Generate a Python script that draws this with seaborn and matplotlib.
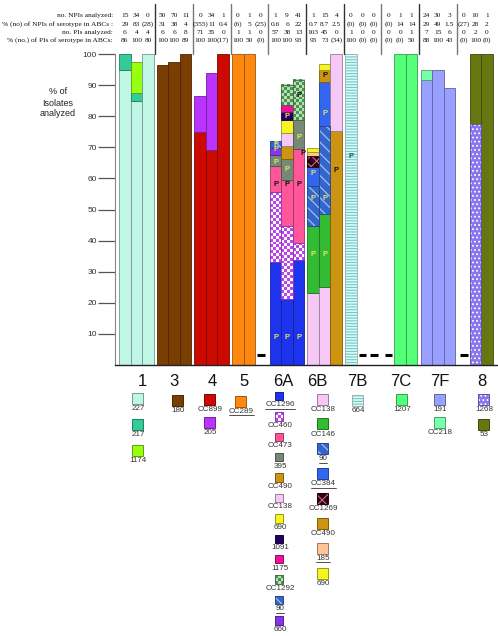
import numpy as np
import matplotlib
matplotlib.use("Agg")
import matplotlib.pyplot as plt
import seaborn as sns
from matplotlib.patches import Rectangle
from matplotlib.colors import to_rgb

sns.set_theme(style="white")
plt.rcParams['font.family'] = ['Liberation Sans', 'DejaVu Sans']
plt.rcParams['hatch.linewidth'] = 0.8

# ---------------- data ----------------
groups = ["1", "3", "4", "5", "6A", "6B", "7B", "7C", "7F", "8"]

row_labels = ["no. NPIs analyzed:",
              "% (no) of NPIs of serotype in ABCs :",
              "no. PIs analyzed:",
              "% (no.) of PIs of serotype in ABCs:"]

npi_n = [["15", "34", "0"], ["50", "70", "11"], ["0", "34", "1"], ["0", "1", "0"],
         ["1", "9", "41"], ["1", "15", "4"], ["0", "0", "0"], ["0", "1", "1"],
         ["24", "30", "3"], ["0", "10", "1"]]
npi_pct = [["29", "83", "(28)"], ["31", "38", "4"], ["(355)", "11", "0.4"], ["(6)", "5", "(25)"],
           ["0.6", "6", "22"], ["0.7", "8.7", "2.5"], ["(0)", "(0)", "(0)"], ["(0)", "14", "14"],
           ["29", "49", "1.5"], ["(27)", "28", "2"]]
pi_n = [["6", "4", "4"], ["6", "6", "8"], ["71", "35", "0"], ["1", "1", "0"],
        ["57", "38", "13"], ["103", "45", "0"], ["1", "0", "0"], ["0", "0", "1"],
        ["7", "15", "6"], ["0", "2", "0"]]
pi_pct = [["86", "100", "80"], ["100", "100", "89"], ["100", "100", "(17)"], ["100", "50", "(0)"],
          ["100", "100", "93"], ["95", "73", "(34)"], ["100", "(0)", "(0)"], ["(0)", "(0)", "50"],
          ["88", "100", "43"], ["(0)", "100", "(0)"]]

# stacked segments (type, % of isolates) for each of the 3 bars of a serotype
seg_1 = [[("227", 95), ("217", 5)], [("227", 85), ("217", 2.5), ("1174", 10)], [("227", 100)]]
seg_3 = [[("180", 96.5)], [("180", 97.5)], [("180", 100)]]
seg_4 = [[("CC899", 75), ("205", 11.5)], [("CC899", 69), ("205", 25)], [("CC899", 100)]]
seg_5 = [[("CC289", 100)], [("CC289", 100)], []]
seg_6A = [[("CC1296", 33), ("CC460", 22.5), ("CC473", 8.5), ("395", 3.6), ("660", 2.1), ("90", 2.3)],
          [("CC1296", 21.2), ("CC460", 23.5), ("CC473", 14.8), ("395", 6.7), ("CC490", 4.1),
           ("CC138", 4.3), ("690", 4.2), ("1091", 2.4), ("1175", 2.3), ("CC1292", 6.5)],
          [("CC1296", 33.7), ("CC460", 5.6), ("CC473", 30.1), ("395", 9.3), ("CC1292", 12.9)]]
seg_6B = [[("CC138", 23.3), ("CC146", 21.4), ("90", 13), ("CC384", 5.9), ("CC1269", 3.7),
           ("185", 1.1), ("690", 1.3)],
          [("CC138", 25.1), ("CC146", 23.3), ("90", 28.5), ("CC384", 14.2), ("CC490", 3.8), ("690", 1.8)],
          [("CC490", 75.3), ("CC138", 24.7)]]
seg_7B = [[("664", 100)], [], []]
seg_7C = [[], [("1207", 100)], [("1207", 100)]]
seg_7F = [[("191", 91.6), ("CC218", 3.2)], [("191", 94.8)], [("191", 89)]]
seg_8 = [[], [("1268", 77.5), ("53", 22.5)], [("53", 100)]]
segments = [seg_1, seg_3, seg_4, seg_5, seg_6A, seg_6B, seg_7B, seg_7C, seg_7F, seg_8]

# "P" marks: (group, bar, value, colour key, x shift)
p_marks = [("6A", 0, 9, "y", 0), ("6A", 0, 58, "k", 0), ("6A", 0, 65, "y", 0), ("6A", 0, 69.2, "y", 0),
           ("6A", 0, 71, "y", 0),
           ("6A", 1, 9, "y", 0), ("6A", 1, 58, "k", 0), ("6A", 1, 63, "y", 0), ("6A", 1, 80, "y", 0),
           ("6A", 2, 9, "y", 0), ("6A", 2, 58, "k", 0), ("6A", 2, 73, "y", 0), ("6A", 2, 86.5, "k", 0),
           ("6B", 0, 35.6, "y", 0), ("6B", 0, 53.5, "y", 0), ("6B", 0, 61.6, "y", 0), ("6B", 0, 68, "k", -0.9),
           ("6B", 1, 35.6, "y", 0), ("6B", 1, 53.5, "y", 0), ("6B", 1, 81, "y", 0), ("6B", 1, 93, "k", 0),
           ("6B", 2, 62.5, "k", 0), ("7B", 0, 67, "t", 0)]

# legend entries per serotype (type, underlined)
legend_items = [[("227", False), ("217", False), ("1174", False)],
                [("180", False)],
                [("CC899", False), ("205", False)],
                [("CC289", True)],
                [("CC1296", True), ("CC460", False), ("CC473", False), ("395", False), ("CC490", False),
                 ("CC138", False), ("690", False), ("1091", False), ("1175", False), ("CC1292", False),
                 ("90", True), ("660", False)],
                [("CC138", False), ("CC146", False), ("90", True), ("CC384", True), ("CC1269", False),
                 ("CC490", False), ("185", True), ("690", False)],
                [("664", False)],
                [("1207", False)],
                [("191", False), ("CC218", False)],
                [("1268", False), ("53", False)]]

# ---------------- styles ----------------
STYLE = {
    "227": dict(fc="#BFF6E6"), "217": dict(fc="#33CC99"), "1174": dict(fc="#99FF11"),
    "180": dict(fc="#7A3D02"), "CC899": dict(fc="#CC0A00"), "205": dict(fc="#BB33FF"),
    "CC289": dict(fc="#FF8811"), "CC1296": dict(fc="#1E33EE"),
    "CC460": dict(fc="#BB44EE", kind="checker", c2="#FFFFFF"),
    "CC473": dict(fc="#FF5599"), "395": dict(fc="#778877"), "CC490": dict(fc="#CC9411"),
    "CC138": dict(fc="#F5C8F5"), "690": dict(fc="#F5F522"), "1091": dict(fc="#220066"),
    "1175": dict(fc="#EE1199"),
    "CC1292": dict(fc="#4E8E4E", kind="checker", c2="#B5E0B5"),
    "90": dict(fc="#3366CC", kind="hatch", c2="#A8C8F0", hatch="\\\\\\"),
    "660": dict(fc="#8833EE"), "CC146": dict(fc="#33BB33"), "CC384": dict(fc="#3366EE"),
    "CC1269": dict(fc="#330011", kind="hatch", c2="#CC6688", hatch="xxx"),
    "185": dict(fc="#FFC399"),
    "664": dict(fc="#E2FAF6", kind="hatch", c2="#66CCCC", hatch="------"),
    "1207": dict(fc="#55FF77"), "191": dict(fc="#99A0FF"), "CC218": dict(fc="#77FFAA"),
    "1268": dict(fc="#8877EE", kind="hatch", c2="#FFFFFF", hatch="...."),
    "53": dict(fc="#667711"),
}
P_COL = {"y": "#E6E65A", "k": "#111111", "t": "#1E5E55"}


def darker(c, f=0.62):
    r, g, b = to_rgb(c)
    return (r * f, g * f, b * f)


def checker_img(fc, c2, nx, ny):
    a = np.array(to_rgb(fc))
    b = np.array(to_rgb(c2))
    ii, jj = np.meshgrid(np.arange(nx), np.arange(ny))
    m = ((ii + jj) % 2 == 0)[..., None]
    return np.where(m, a, b)


W, H = 498, 636
fig = plt.figure(figsize=(W / 100, H / 100), dpi=100)
fig.patch.set_facecolor("white")
AX_L, AX_R, AX_T, AX_B = 115, 497, 54, 365
ax = fig.add_axes([AX_L / W, 1 - AX_B / H, (AX_R - AX_L) / W, (AX_B - AX_T) / H])
ov = fig.add_axes([0, 0, 1, 1], zorder=5)
ov.set_xlim(0, W)
ov.set_ylim(H, 0)
ov.axis("off")
ov.patch.set_alpha(0)

STEP = 3.276
XL = (-1.86, 31.36)


def bx(gi, bi):
    return gi * STEP + (bi - 1)


def to_px(x):
    return AX_L + (x - XL[0]) / (XL[1] - XL[0]) * (AX_R - AX_L)


def draw_rect(axis, x0, y0, w, h, key, lw=0.6, cell=(4, 0.95)):
    st = STYLE[key]
    kind = st.get("kind", "solid")
    fc = st["fc"]
    if kind == "solid":
        axis.add_patch(Rectangle((x0, y0), w, h, facecolor=fc, edgecolor=darker(fc), lw=lw, zorder=2))
    elif kind == "checker":
        nx = cell[0]
        ny = max(1, int(round(abs(h) / cell[1])))
        img = checker_img(fc, st["c2"], nx, ny)
        axis.imshow(img, extent=[x0, x0 + w, y0, y0 + h], aspect="auto",
                    interpolation="nearest", zorder=2)
        axis.add_patch(Rectangle((x0, y0), w, h, fill=False, edgecolor=darker(fc, 0.8), lw=lw, zorder=3))
    else:
        axis.add_patch(Rectangle((x0, y0), w, h, facecolor=fc, lw=0, zorder=2))
        axis.add_patch(Rectangle((x0, y0), w, h, fill=False, hatch=st["hatch"],
                                 edgecolor=st["c2"], lw=0, zorder=2.5))
        axis.add_patch(Rectangle((x0, y0), w, h, fill=False, edgecolor=darker(fc, 0.7), lw=lw, zorder=3))


# ---------------- bars ----------------
for gi, segs in enumerate(segments):
    for bi, bar in enumerate(segs):
        x = bx(gi, bi)
        if not bar:
            ax.hlines(3.2, x - 0.32, x + 0.32, color="black", lw=2.2, zorder=4)
            continue
        bottom = 0.0
        for key, val in bar:
            st = STYLE[key]
            if st.get("kind", "solid") == "solid":
                ax.bar(x, val, bottom=bottom, width=1.0, color=st["fc"],
                       edgecolor=darker(st["fc"]), linewidth=0.6, zorder=2)
            else:
                draw_rect(ax, x - 0.5, bottom, 1.0, val, key)
            bottom += val

for g, bi, yv, ck, dx in p_marks:
    gi = groups.index(g)
    ax.text(bx(gi, bi) + dx, yv, "P", color=P_COL[ck], fontsize=5.5, fontweight="bold",
            ha="center", va="center", zorder=6)

ax.set_xlim(*XL)
ax.set_ylim(0, 100)
ax.set_xticks([])
ax.set_yticks(np.arange(10, 101, 10))
ax.tick_params(axis="y", length=12, width=0.9, color="#555555", labelsize=6,
               labelcolor="#333333", pad=1, left=True)
for s in ["top", "right"]:
    ax.spines[s].set_visible(False)
ax.spines["left"].set_color("#888888")
ax.spines["left"].set_linewidth(0.8)
ax.spines["bottom"].set_color("#222222")
ax.spines["bottom"].set_linewidth(1.0)
ax.patch.set_alpha(0)

# ---------------- header table ----------------
rows = [npi_n, npi_pct, pi_n, pi_pct]
row_y = [15.5, 24, 32.5, 40.5]
hdr_font = dict(family=["Liberation Serif", "DejaVu Serif"], fontsize=5.3, color="#111111")
for r, (lab, vals) in enumerate(zip(row_labels, rows)):
    ov.text(113, row_y[r], lab, ha="right", va="center", **hdr_font)
    for gi in range(len(groups)):
        for bi in range(3):
            ov.text(to_px(bx(gi, bi)), row_y[r], vals[gi][bi], ha="center", va="center", **hdr_font)
for gi in range(len(groups) - 1):
    xp = to_px((gi + 0.5) * STEP)
    ov.plot([xp, xp], [4, AX_T], color="#333333" if gi in (0, 4, 5, 7) else "#777777", lw=1.0)

# ---------------- y label ----------------
for t, yy in zip(["% of", "Isolates", "analyzed"], [92, 103, 114]):
    ov.text(58, yy, t, ha="center", va="center", fontsize=6.5, color="#222222")

# ---------------- legend ----------------
lab_x = [142, 174, 212, 244, 283, 317, 357, 401, 440, 482]
leg_x = [137, 177, 209, 240, 279, 322, 357, 401, 439, 483]
leg_y0 = [398, 400, 399, 401, 396, 399, 400, 399, 399, 399]
leg_step = [26, 24, 23, 24, 20.4, 24.9, 24, 24, 23, 25]
leg_size = [11, 11, 11, 11, 8.5, 11, 11, 11, 11, 11]

for gi, g in enumerate(groups):
    ov.text(lab_x[gi], 381, g, ha="center", va="center", fontsize=12, color="#111111")
    s = leg_size[gi]
    underlined = []
    for k, (key, ul) in enumerate(legend_items[gi]):
        cy = leg_y0[gi] + k * leg_step[gi]
        cx = leg_x[gi]
        draw_rect(ov, cx - s / 2, cy - s / 2, s, s, key, lw=0.7, cell=(max(2, int(round(s / 3))), 3.0))
        t = ov.text(cx + 1, cy + s / 2 + 1.2, key, ha="center", va="top", fontsize=5.8, color="#333333")
        if ul:
            underlined.append(t)
    for t in underlined:
        pass
    legend_items[gi] = (legend_items[gi], underlined)

fig.canvas.draw()
inv = ov.transData.inverted()
for gi in range(len(groups)):
    for t in legend_items[gi][1]:
        bb = t.get_window_extent()
        (x0, y0), (x1, y1) = inv.transform([[bb.x0, bb.y0], [bb.x1, bb.y1]])
        yb = max(y0, y1) + 0.2
        ov.plot([x0, x1], [yb, yb], color="#333333", lw=0.6)

fig.savefig("out.png", dpi=100)
